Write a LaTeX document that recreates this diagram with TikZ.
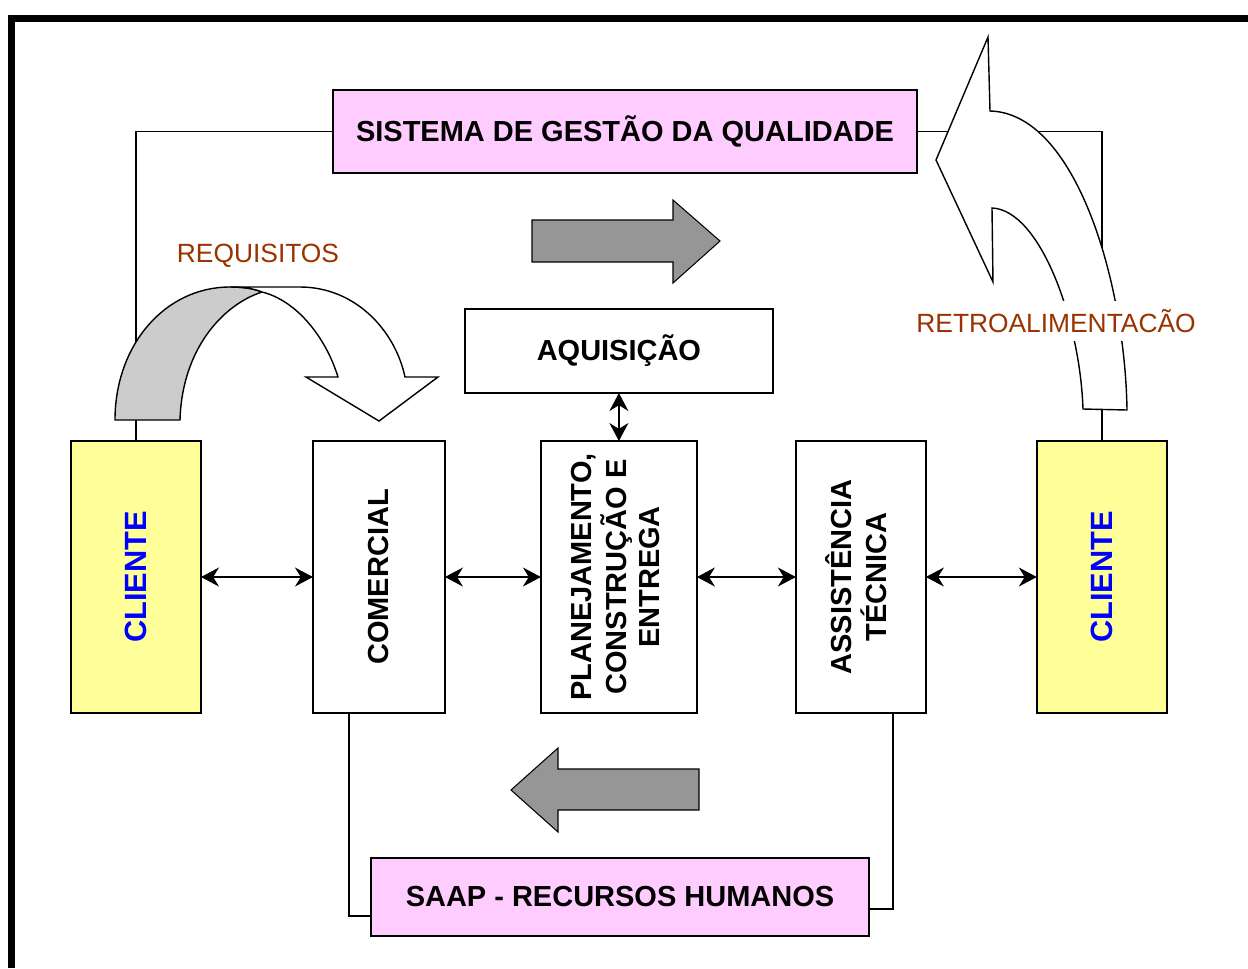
\documentclass[tikz,border=0pt]{standalone}
\usepackage{fontspec}
\setmainfont{Liberation Sans}
\usetikzlibrary{positioning,arrows.meta}
\definecolor{boxpink}{RGB}{255,204,255}
\definecolor{boxyellow}{RGB}{255,255,153}
\definecolor{labelbrown}{RGB}{153,51,0}
\definecolor{arrowgray}{RGB}{150,150,150}
\definecolor{ribbongray}{RGB}{204,204,204}

\begin{document}
\begin{tikzpicture}[
    x=0.02cm, y=-0.02cm,
    box/.style={
        draw,
        line width=1pt,
        fill=white,
        minimum width=2.6cm,
        minimum height=5.44cm,
        align=center,
        inner sep=0pt,
        outer sep=0pt,
        font=\fontsize{16.5}{18.7}\selectfont\bfseries
    },
    client/.style={
        box,
        fill=boxyellow,
        text=blue,
        font=\fontsize{17.5}{20}\selectfont\bfseries
    },
    widebox/.style={
        box,
        fill=boxpink,
        minimum height=1.66cm
    },
    arr/.style={
        {Stealth[length=3.6mm,width=3.8mm]}-{Stealth[length=3.6mm,width=3.8mm]},
        line width=0.8pt
    },
    link/.style={line width=0.8pt},
    tag/.style={
        text=labelbrown,
        fill=white,
        inner xsep=1pt,
        inner ysep=5pt,
        font=\fontsize{15}{18}\selectfont
    },
    blockarrow/.style={draw, line width=0.6pt, fill=arrowgray},
    bentarrow/.style={draw, line width=0.8pt, fill=white}
]
\useasboundingbox (0,0) rectangle (1248,968);

% frame
\draw[line width=0.14cm] (11.5,968) -- (11.5,18.5) -- (1248,18.5);

% middle row
\node[client] (cl) at (136,577) {\rotatebox{90}{CLIENTE}};
\node[box, minimum width=2.64cm, right=2.24cm of cl] (com) {\rotatebox{90}{COMERCIAL}};
\node[box, minimum width=3.12cm, right=1.92cm of com] (plan) {\rotatebox{90}{\begin{tabular}{@{}c@{}}PLANEJAMENTO,\\CONSTRUÇÃO E\\ENTREGA\end{tabular}}};
\node[box, right=1.98cm of plan] (asst) {\rotatebox{90}{\begin{tabular}{@{}c@{}}ASSISTÊNCIA\\TÉCNICA\end{tabular}}};
\node[client, right=2.22cm of asst] (cr) {\rotatebox{90}{CLIENTE}};

\node[box, minimum width=6.16cm, minimum height=1.68cm, above=0.96cm of plan] (aq) {AQUISIÇÃO};
\node[widebox, minimum width=11.68cm] (sgq) at (625,131.5) {SISTEMA DE GESTÃO DA QUALIDADE};
\node[widebox, minimum width=9.96cm, minimum height=1.56cm] (saap) at (620,897) {SAAP - RECURSOS HUMANOS};

\draw[arr] (cl) -- (com);
\draw[arr] (com) -- (plan);
\draw[arr] (plan) -- (asst);
\draw[arr] (asst) -- (cr);
\draw[arr] (aq) -- (plan);

\draw[link] (sgq.west) -| (cl.north);
\draw[link] (sgq.east) -| (cr.north);
\draw[link] ([xshift=-0.6cm]com.south) |- ([yshift=-0.38cm]saap.west);
\draw[link] ([xshift=0.64cm]asst.south) |- ([yshift=-0.24cm]saap.east);

% flow arrows
\draw[blockarrow] (532,220) -- (673,220) -- (673,200) -- (720,241) -- (673,283) -- (673,262) -- (532,262) -- cycle;
\draw[blockarrow] (699,769) -- (558,769) -- (558,748) -- (511,790) -- (558,832) -- (558,810) -- (699,810) -- cycle;

% requisitos
\draw[bentarrow, fill=ribbongray] (115,420) .. controls (115,345) and (165,287) .. (230,287)
    .. controls (245,287) and (255,289) .. (262,292)
    .. controls (222,305) and (182,350) .. (180,420) -- cycle;
\draw[bentarrow] (230,287) -- (300,287) .. controls (355,287) and (395,330) .. (405,377)
    -- (438,377) -- (379,421) -- (306,377) -- (338,377)
    .. controls (325,335) and (295,300) .. (262,292)
    .. controls (255,289) and (245,287) .. (230,287) -- cycle;
\node[tag] (req) at (258,256) {REQUISITOS};

% retroalimentacao
\draw[bentarrow] (1083,409) .. controls (1080,320) and (1040,210) .. (992,208)
    -- (993,282) -- (936,160) -- (988,37) -- (990,111)
    .. controls (1075,113) and (1125,280) .. (1127,410) -- cycle;
\node[tag] (retro) at (1056,321) {RETROALIMENTACÃO};

\end{tikzpicture}
\end{document}
